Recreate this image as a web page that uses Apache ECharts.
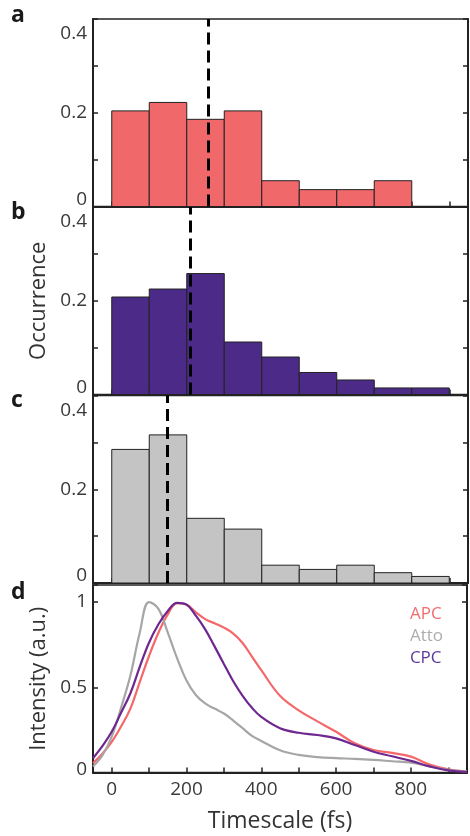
<!DOCTYPE html>
<html>
<head>
<meta charset="utf-8">
<script src="https://cdn.jsdelivr.net/npm/echarts@6/dist/echarts.min.js"></script>
<style>
  html, body { margin: 0; padding: 0; background: #fff; }
  #chart { width: 470px; height: 836px; }
</style>
</head>
<body>
<div id="chart"></div>
<script>
// histogram bins (fs)
const binStarts = [0, 100, 200, 300, 400, 500, 600, 700, 800];
const binWidth = 100;

// occurrence per bin
const apcOccurrence = [0.204, 0.222, 0.186, 0.204, 0.055, 0.036, 0.036, 0.055];
const cpcOccurrence = [0.208, 0.225, 0.258, 0.112, 0.080, 0.047, 0.031, 0.014, 0.014];
const attoOccurrence = [0.285, 0.316, 0.138, 0.115, 0.038, 0.029, 0.038, 0.022, 0.014];

// mean timescale markers (fs)
const apcMean = 257;
const cpcMean = 208;
const attoMean = 148;

// panel d: intensity curves
const timeAxis = [-50, -25, 0, 25, 50, 75, 100, 125, 150, 175, 200, 225, 250, 275, 300, 325, 350, 375, 400,
  450, 500, 550, 600, 650, 700, 750, 800, 850, 900, 950];
const apcIntensity = [0.055, 0.11, 0.18, 0.27, 0.375, 0.53, 0.685, 0.82, 0.928, 0.993, 0.985, 0.94, 0.9, 0.875,
  0.85, 0.815, 0.76, 0.68, 0.6, 0.45, 0.365, 0.3, 0.239, 0.171, 0.132, 0.115, 0.093, 0.047, 0.019, 0.005];
const cpcIntensity = [0.084, 0.155, 0.239, 0.35, 0.465, 0.62, 0.763, 0.87, 0.948, 0.995, 0.985, 0.92, 0.84, 0.74,
  0.637, 0.535, 0.45, 0.38, 0.326, 0.26, 0.233, 0.22, 0.2, 0.161, 0.122, 0.095, 0.068, 0.036, 0.012, 0.003];
const attoIntensity = [0.035, 0.1, 0.21, 0.38, 0.569, 0.82, 1.0, 0.96, 0.82, 0.67, 0.54, 0.455, 0.405, 0.375,
  0.346, 0.305, 0.26, 0.215, 0.185, 0.13, 0.103, 0.09, 0.084, 0.08, 0.074, 0.066, 0.058, 0.036, 0.016, 0.006];

const xTickLabels = [0, 200, 400, 600, 800];
const occTickLabels = [0, 0.2, 0.4];
const intTickLabels = [0, 0.5, 1];

const font = 'Open Sans';
const axisColor = '#222';
const labelColor = '#3a3a3a';

const chart = echarts.init(document.getElementById('chart'));

const gridTops = [19, 207, 395.5, 585];
const gridH = 187.5;

const histPanels = [
  { values: apcOccurrence, mean: apcMean, color: '#F0686A' },
  { values: cpcOccurrence, mean: cpcMean, color: '#4C2A88' },
  { values: attoOccurrence, mean: attoMean, color: '#C4C4C4' }
];

const grids = gridTops.map(t => ({
  left: 93, right: 2, top: t, height: gridH,
  show: true, borderColor: axisColor, borderWidth: 1.5, backgroundColor: 'transparent'
}));

const xAxes = gridTops.map((t, i) => ({
  type: 'value', gridIndex: i, min: -50, max: 950, minInterval: 100, maxInterval: 100,
  axisLine: { show: true, onZero: false, lineStyle: { color: axisColor, width: 2 } },
  axisTick: { show: true, inside: true, length: 5, lineStyle: { color: axisColor, width: 1.5 } },
  splitLine: { show: false },
  axisLabel: {
    show: i === 3, fontFamily: font, fontSize: 19, color: labelColor, margin: 8,
    formatter: v => xTickLabels.includes(v) ? String(v) : ''
  },
  name: i === 3 ? 'Timescale (fs)' : '',
  nameLocation: 'middle', nameGap: 37,
  nameTextStyle: { fontFamily: font, fontSize: 23, color: '#333' }
}));

const yAxes = [];
gridTops.forEach((t, i) => {
  const isD = i === 3;
  const ticks = isD ? intTickLabels : occTickLabels;
  const maxV = isD ? 1.1 : 0.4;
  const base = {
    type: 'value', gridIndex: i, min: 0, max: maxV, interval: isD ? 0.5 : 0.1,
    axisLine: { show: true, onZero: false, lineStyle: { color: axisColor, width: 2 } },
    axisTick: { show: true, inside: true, length: 5, lineStyle: { color: axisColor, width: 1.5 } },
    splitLine: { show: false }
  };
  yAxes.push(Object.assign({}, base, {
    position: 'left',
    axisLabel: {
      fontFamily: font, fontSize: 19, color: labelColor, margin: 6,
      formatter: v => {
        const r = Math.round(v * 10) / 10;
        if (!ticks.includes(r) || Math.abs(r - v) > 1e-6) return '';
        if (r === 0) return '{bot|0}';
        if (!isD && r === 0.4) return '{top|0.4}';
        return String(r);
      },
      rich: {
        top: { fontFamily: font, fontSize: 19, color: labelColor, padding: [30, 0, 0, 0] },
        bot: { fontFamily: font, fontSize: 19, color: labelColor, padding: [0, 0, isD ? 6 : 14, 0] }
      }
    },
    name: i === 1 ? 'Occurrence' : (isD ? 'Intensity (a.u.)' : ''),
    nameLocation: 'middle', nameGap: 37,
    nameTextStyle: { fontFamily: font, fontSize: 22, color: '#333' }
  }));
  yAxes.push(Object.assign({}, base, { position: 'right', axisLabel: { show: false } }));
});

const series = [];
histPanels.forEach((p, i) => {
  series.push({
    type: 'custom',
    xAxisIndex: i, yAxisIndex: i * 2,
    data: p.values.map((v, k) => [binStarts[k], binStarts[k] + binWidth, v]),
    encode: { x: [0, 1], y: 2 },
    renderItem: (params, api) => {
      const a = api.coord([api.value(0), api.value(2)]);
      const b = api.coord([api.value(1), 0]);
      return {
        type: 'rect',
        shape: { x: a[0], y: a[1], width: b[0] - a[0], height: b[1] - a[1] },
        style: { fill: p.color, stroke: '#222', lineWidth: 1 }
      };
    },
    markLine: {
      silent: true, symbol: ['none', 'none'], label: { show: false },
      lineStyle: { color: '#000', width: 3, type: [12, 6] },
      data: [{ xAxis: p.mean }]
    },
    z: 2
  });
});

const lineDefs = [
  { name: 'APC', data: apcIntensity, color: '#F4686A' },
  { name: 'Atto', data: attoIntensity, color: '#A6A6A6' },
  { name: 'CPC', data: cpcIntensity, color: '#6F2790' }
];
lineDefs.forEach(l => {
  series.push({
    name: l.name, type: 'line', xAxisIndex: 3, yAxisIndex: 6,
    data: timeAxis.map((t, k) => [t, l.data[k]]),
    smooth: 0.4, showSymbol: false, symbol: 'none',
    lineStyle: { color: l.color, width: 2.2 }, itemStyle: { color: l.color },
    z: l.name === 'CPC' ? 4 : 3
  });
});

const letters = [['a', 17], ['b', 213.5], ['c', 402], ['d', 593.5]];

chart.setOption({
  animation: false,
  backgroundColor: '#fff',
  grid: grids,
  xAxis: xAxes,
  yAxis: yAxes,
  series: series,
  legend: {
    orient: 'vertical', right: 22, top: 601, icon: 'none', itemWidth: 0, itemGap: 5,
    selectedMode: false,
    textStyle: { fontFamily: font, fontSize: 17, padding: 0 },
    data: [
      { name: 'APC', textStyle: { color: '#F26D6D' } },
      { name: 'Atto', textStyle: { color: '#ADADAD' } },
      { name: 'CPC', textStyle: { color: '#5B3A9B' } }
    ]
  },
  graphic: letters.map(([t, y]) => ({
    type: 'text', left: 11, top: y - 13,
    style: { text: t, font: 'bold 23px "Open Sans"', fill: '#1a1a1a' }
  }))
});
</script>
</body>
</html>
